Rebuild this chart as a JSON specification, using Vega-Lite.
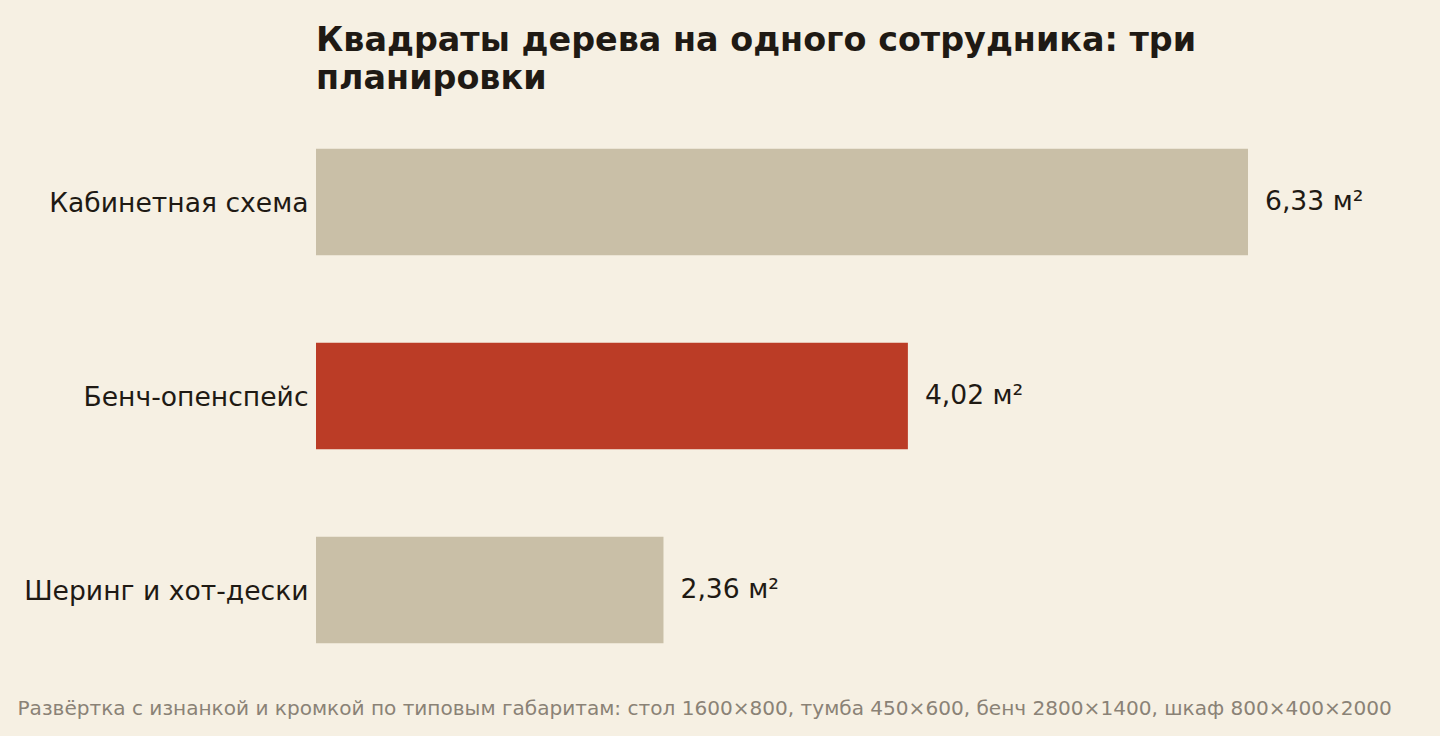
{
  "$schema": "https://vega.github.io/schema/vega-lite/v6.json",
  "width": 932,
  "height": 582,
  "autosize": "none",
  "padding": {"left": 316, "top": 105, "right": 192, "bottom": 49},
  "background": "#f6f0e3",
  "config": {
    "view": {"stroke": null},
    "font": "DejaVu Sans"
  },
  "title": {
    "text": ["Квадраты дерева на одного сотрудника: три", "планировки"],
    "anchor": "start",
    "frame": "group",
    "fontSize": 33.4,
    "fontWeight": "bold",
    "lineHeight": 38,
    "color": "#1f1a14",
    "offset": 9
  },
  "data": {
    "values": [
      {"layout": "Кабинетная схема", "area": 6.33, "label": "6,33 м²", "highlight": false},
      {"layout": "Бенч-опенспейс", "area": 4.02, "label": "4,02 м²", "highlight": true},
      {"layout": "Шеринг и хот-дески", "area": 2.36, "label": "2,36 м²", "highlight": false}
    ]
  },
  "encoding": {
    "y": {
      "field": "layout",
      "type": "nominal",
      "sort": null,
      "scale": {"paddingInner": 0.45, "paddingOuter": 0.225},
      "axis": {
        "title": null,
        "domain": false,
        "ticks": false,
        "labelPadding": 8,
        "labelFontSize": 26.6,
        "labelColor": "#1f1a14",
        "labelLimit": 400,
        "labelOffset": 2
      }
    },
    "x": {
      "field": "area",
      "type": "quantitative",
      "scale": {"domain": [0, 6.33], "nice": false},
      "axis": {
        "grid": false,
        "domain": false,
        "ticks": false,
        "labels": false,
        "title": "Развёртка с изнанкой и кромкой по типовым габаритам: стол 1600×800, тумба 450×600, бенч 2800×1400, шкаф 800×400×2000",
        "titleFontSize": 20.07,
        "titleFontWeight": "normal",
        "titleColor": "#8a8276",
        "titleAnchor": "start",
        "titleAlign": "left",
        "titleBaseline": "alphabetic",
        "titleX": -299,
        "titleY": 27
      }
    }
  },
  "layer": [
    {
      "mark": {"type": "bar"},
      "encoding": {
        "color": {
          "field": "highlight",
          "type": "nominal",
          "scale": {"domain": [false, true], "range": ["#c9bfa7", "#bb3c26"]},
          "legend": null
        }
      }
    },
    {
      "mark": {"type": "text", "align": "left", "baseline": "middle", "dx": 17, "dy": 0, "fontSize": 26.6, "color": "#1f1a14", "clip": false},
      "encoding": {
        "text": {"field": "label"}
      }
    }
  ]
}
